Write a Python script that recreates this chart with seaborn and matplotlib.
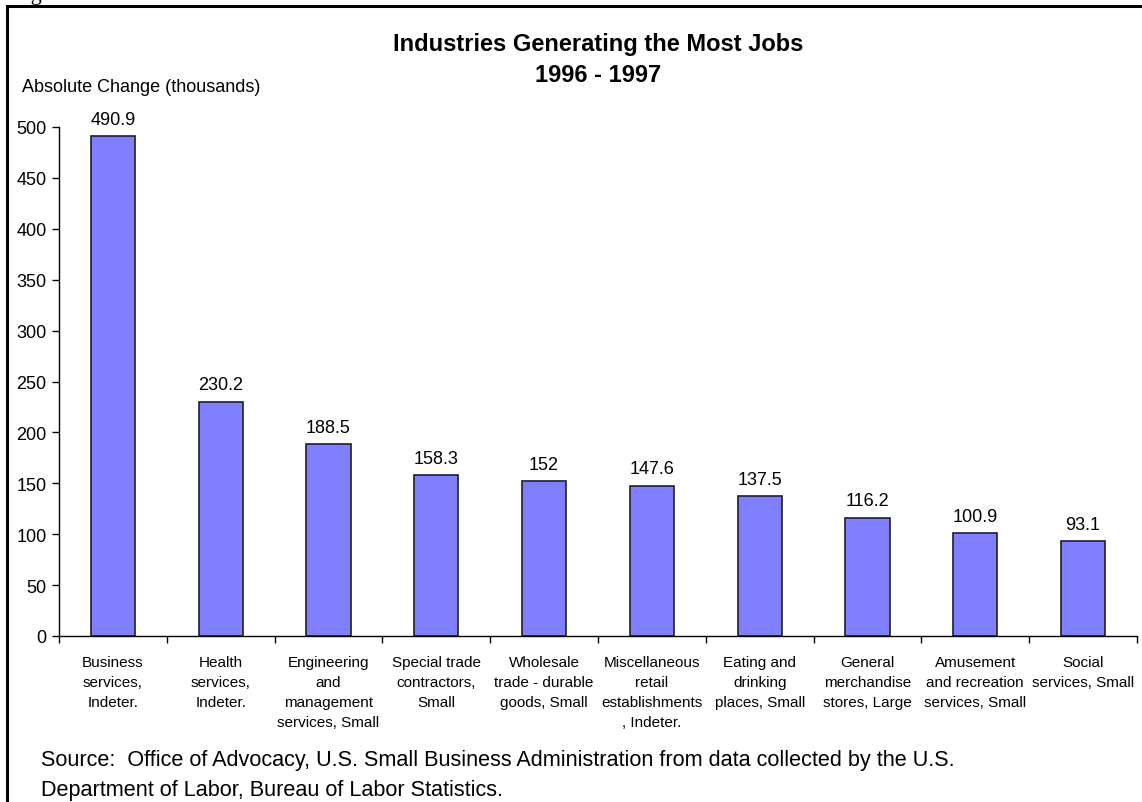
import numpy as np
import pandas as pd
import matplotlib
matplotlib.use("Agg")
import matplotlib.pyplot as plt
from matplotlib.patches import Rectangle
import seaborn as sns

# --- Data ---
industries = [
    "Business\nservices,\nIndeter.",
    "Health\nservices,\nIndeter.",
    "Engineering\nand\nmanagement\nservices, Small",
    "Special trade\ncontractors,\nSmall",
    "Wholesale\ntrade - durable\ngoods, Small",
    "Miscellaneous\nretail\nestablishments\n, Indeter.",
    "Eating and\ndrinking\nplaces, Small",
    "General\nmerchandise\nstores, Large",
    "Amusement\nand recreation\nservices, Small",
    "Social\nservices, Small",
]
job_change = [490.9, 230.2, 188.5, 158.3, 152, 147.6, 137.5, 116.2, 100.9, 93.1]
y_ticks = [0, 50, 100, 150, 200, 250, 300, 350, 400, 450, 500]

title_text = "Industries Generating the Most Jobs\n1996 - 1997"
ylabel_text = "Absolute Change (thousands)"
source_lines = [
    "Source:  Office of Advocacy, U.S. Small Business Administration from data collected by the U.S.",
    "Department of Labor, Bureau of Labor Statistics.",
]

# --- Style ---
BAR_COLOR = "#8080FF"
W, H = 1142, 803

sns.set_style("white")
plt.rcParams["font.family"] = ["Liberation Sans", "DejaVu Sans"]
plt.rcParams["text.color"] = "black"
plt.rcParams["xtick.color"] = "black"
plt.rcParams["ytick.color"] = "black"

df = pd.DataFrame({"Industry": industries, "Change": job_change})

fig = plt.figure(figsize=(W / 100, H / 100), dpi=100)
ax = fig.add_axes([59 / W, 1 - 637 / H, (1137 - 59) / W, (637 - 128) / H])

sns.barplot(data=df, x="Industry", y="Change", color=BAR_COLOR, saturation=1,
            width=0.41, edgecolor="#202020", linewidth=1.2, ax=ax)

# value labels on top of bars
ax.bar_label(ax.containers[0], fmt="{:g}", padding=6, fontsize=13, color="black")

ax.set_xlim(-0.5, len(industries) - 0.5)
ax.set_ylim(0, 500)
ax.set_yticks(y_ticks)
ax.tick_params(axis="y", direction="out", length=5, width=1, labelsize=13,
               left=True, color="black", labelcolor="black", pad=4)

# ticks sit between categories, labels sit under the bars
ax.set_xticks(np.arange(-0.5, len(industries), 1))
ax.set_xticklabels([])
ax.set_xticks(np.arange(len(industries)), minor=True)
ax.set_xticklabels(industries, minor=True, fontsize=11, va="top")
ax.tick_params(axis="x", which="major", direction="out", length=5, width=1,
               bottom=True, color="black")
ax.tick_params(axis="x", which="minor", length=0, pad=14, labelcolor="black")
for lab in ax.get_xticklabels(minor=True):
    lab.set_linespacing(1.52)

ax.set_xlabel("")
ax.set_ylabel("")
sns.despine(ax=ax)
for side in ["left", "bottom"]:
    ax.spines[side].set_color("black")
    ax.spines[side].set_linewidth(1)

# --- Texts around the plot ---
fig.text(598 / W, 1 - 60 / H, title_text, ha="center", va="center",
         fontsize=17, fontweight="bold", linespacing=1.4)
fig.text(22 / W, 1 - 88 / H, ylabel_text, ha="left", va="center", fontsize=13)
fig.text(41 / W, 1 - 761 / H, source_lines[0], ha="left", va="center", fontsize=15.6)
fig.text(41 / W, 1 - 791 / H, source_lines[1], ha="left", va="center", fontsize=15.6)

# page caption cut off at the top edge (only the descender shows)
fig.text(12 / W, 1.0, "Figure", ha="left", va="baseline", fontsize=16,
         family=["Liberation Serif", "DejaVu Serif"])

# frame around the whole figure (runs off the right and bottom edges)
fig.patches.append(Rectangle((7 / W, -0.1), 1.2, 1 - 7 / H + 0.1, transform=fig.transFigure,
                             fill=False, edgecolor="black", linewidth=2.2))

fig.savefig("out.png", dpi=100)
